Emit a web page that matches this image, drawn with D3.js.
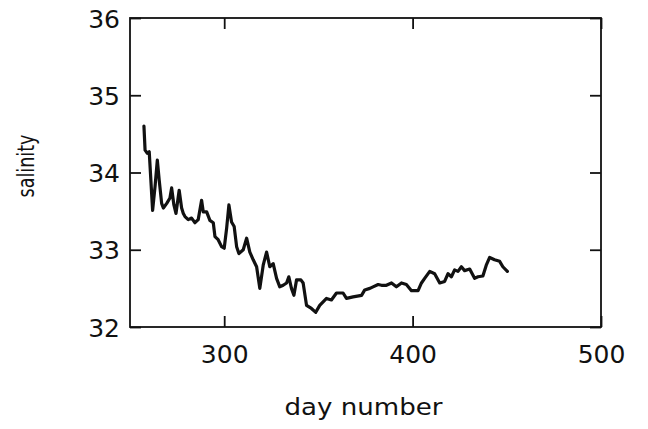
<!DOCTYPE html>
<html>
<head>
<meta charset="utf-8">
<script src="https://cdn.jsdelivr.net/npm/d3@7"></script>
<style>
  html, body { margin: 0; padding: 0; background: #fff; }
  svg { display: block; }
  text { font-family: "DejaVu Sans", sans-serif; fill: #111; }
</style>
</head>
<body>
<svg id="chart" width="648" height="429"></svg>
<script>
// ---- data ----
const days = [257.4, 258.0, 259.2, 260.2, 262.0, 263.3, 264.5, 265.5, 266.8, 267.7,
  269.5, 271.2, 272.1, 273.3, 274.4, 276.1, 277.4, 278.3, 279.2, 280.9,
  282.7, 284.5, 286.2, 288.0, 288.9, 290.7, 292.4, 294.2, 295.1, 296.8,
  298.6, 300.0, 301.3, 302.5, 303.9, 305.3, 306.6, 307.8, 310.1, 311.9,
  313.6, 315.4, 317.2, 318.9, 320.7, 322.5, 324.2, 326.0, 327.8, 329.5,
  331.3, 333.1, 334.3, 335.7, 337.0, 338.4, 340.7, 341.9, 343.7, 346.3,
  348.6, 350.7, 354.3, 356.9, 359.6, 363.1, 364.9, 368.4, 372.9, 374.6,
  377.3, 379.0, 381.7, 383.5, 386.1, 388.8, 391.4, 394.1, 396.7, 399.4,
  402.9, 404.7, 406.4, 409.1, 411.7, 414.4, 417.0, 418.8, 420.6, 422.3,
  424.1, 425.9, 427.6, 430.3, 432.9, 434.7, 437.3, 439.1, 440.9, 443.5,
  446.2, 447.9, 450.3];
const salinity = [34.60, 34.29, 34.25, 34.27, 33.51, 33.82, 34.16, 33.90, 33.60, 33.54,
  33.60, 33.67, 33.80, 33.58, 33.47, 33.77, 33.54, 33.47, 33.43, 33.39,
  33.41, 33.35, 33.39, 33.64, 33.49, 33.49, 33.38, 33.35, 33.17, 33.13,
  33.04, 33.02, 33.28, 33.58, 33.36, 33.30, 33.04, 32.95, 33.00, 33.15,
  32.97, 32.87, 32.78, 32.50, 32.80, 32.97, 32.78, 32.82, 32.63, 32.52,
  32.54, 32.57, 32.65, 32.50, 32.41, 32.61, 32.61, 32.57, 32.28, 32.24,
  32.19, 32.28, 32.37, 32.35, 32.44, 32.44, 32.37, 32.39, 32.41, 32.48,
  32.50, 32.52, 32.55, 32.54, 32.54, 32.57, 32.52, 32.57, 32.55, 32.47,
  32.47, 32.57, 32.63, 32.72, 32.69, 32.57, 32.59, 32.69, 32.65, 32.74,
  32.72, 32.78, 32.73, 32.75, 32.63, 32.65, 32.66, 32.80, 32.90, 32.87,
  32.85, 32.78, 32.72];
const xTicks = [300, 400, 500];
const yTicks = [32, 33, 34, 35, 36];
const xLabel = "day number";
const yLabel = "salinity";

// ---- layout ----
const pLeft = 130, pRight = 601, pTop = 18, pBottom = 327;
const svg = d3.select("#chart");
const x = d3.scaleLinear().domain([250, 500]).range([pLeft, pRight]);
const y = d3.scaleLinear().domain([32, 36]).range([pBottom, pTop]);
const tickLen = 11;

// frame
svg.append("rect")
  .attr("x", pLeft).attr("y", pTop)
  .attr("width", pRight - pLeft).attr("height", pBottom - pTop)
  .attr("fill", "none").attr("stroke", "#111").attr("stroke-width", 1.8);

// axes (inward ticks on all four sides)
const axisStyle = g => {
  g.select(".domain").remove();
  g.selectAll(".tick line").attr("stroke", "#111").attr("stroke-width", 1.8);
};
svg.append("g").attr("transform", `translate(0,${pBottom})`)
  .call(d3.axisBottom(x).tickValues(xTicks).tickSize(-tickLen).tickPadding(0).tickFormat(d3.format("d")))
  .call(axisStyle)
  .call(g => g.selectAll(".tick text").attr("font-size", 25).attr("y", 36).attr("dy", 0)
      .attr("font-family", "DejaVu Sans").attr("fill", "#111"));
svg.append("g").attr("transform", `translate(0,${pTop})`)
  .call(d3.axisTop(x).tickValues(xTicks).tickSize(-tickLen).tickFormat(""))
  .call(axisStyle);
svg.append("g").attr("transform", `translate(${pLeft},0)`)
  .call(d3.axisLeft(y).tickValues(yTicks).tickSize(-tickLen).tickFormat(d3.format("d")))
  .call(axisStyle)
  .call(g => g.selectAll(".tick text").attr("font-size", 25).attr("x", -10).attr("dy", "0.36em")
      .attr("font-family", "DejaVu Sans").attr("fill", "#111"));
svg.append("g").attr("transform", `translate(${pRight},0)`)
  .call(d3.axisRight(y).tickValues(yTicks).tickSize(-tickLen).tickFormat(""))
  .call(axisStyle);

// axis titles
svg.append("text")
  .attr("x", (pLeft + pRight) / 2 - 2).attr("y", 415)
  .attr("text-anchor", "middle").attr("font-size", 23)
  .attr("textLength", 158).attr("lengthAdjust", "spacingAndGlyphs")
  .text(xLabel);
svg.append("text")
  .attr("transform", "translate(34,166) rotate(-90)")
  .attr("text-anchor", "middle").attr("font-size", 23)
  .attr("textLength", 63).attr("lengthAdjust", "spacingAndGlyphs")
  .text(yLabel);

// data line
const pts = days.map((d, i) => [d, salinity[i]]);
svg.append("path")
  .datum(pts)
  .attr("fill", "none").attr("stroke", "#111").attr("stroke-width", 3.2)
  .attr("stroke-linejoin", "round").attr("stroke-linecap", "round")
  .attr("d", d3.line().x(d => x(d[0])).y(d => y(d[1])));
</script>
</body>
</html>
